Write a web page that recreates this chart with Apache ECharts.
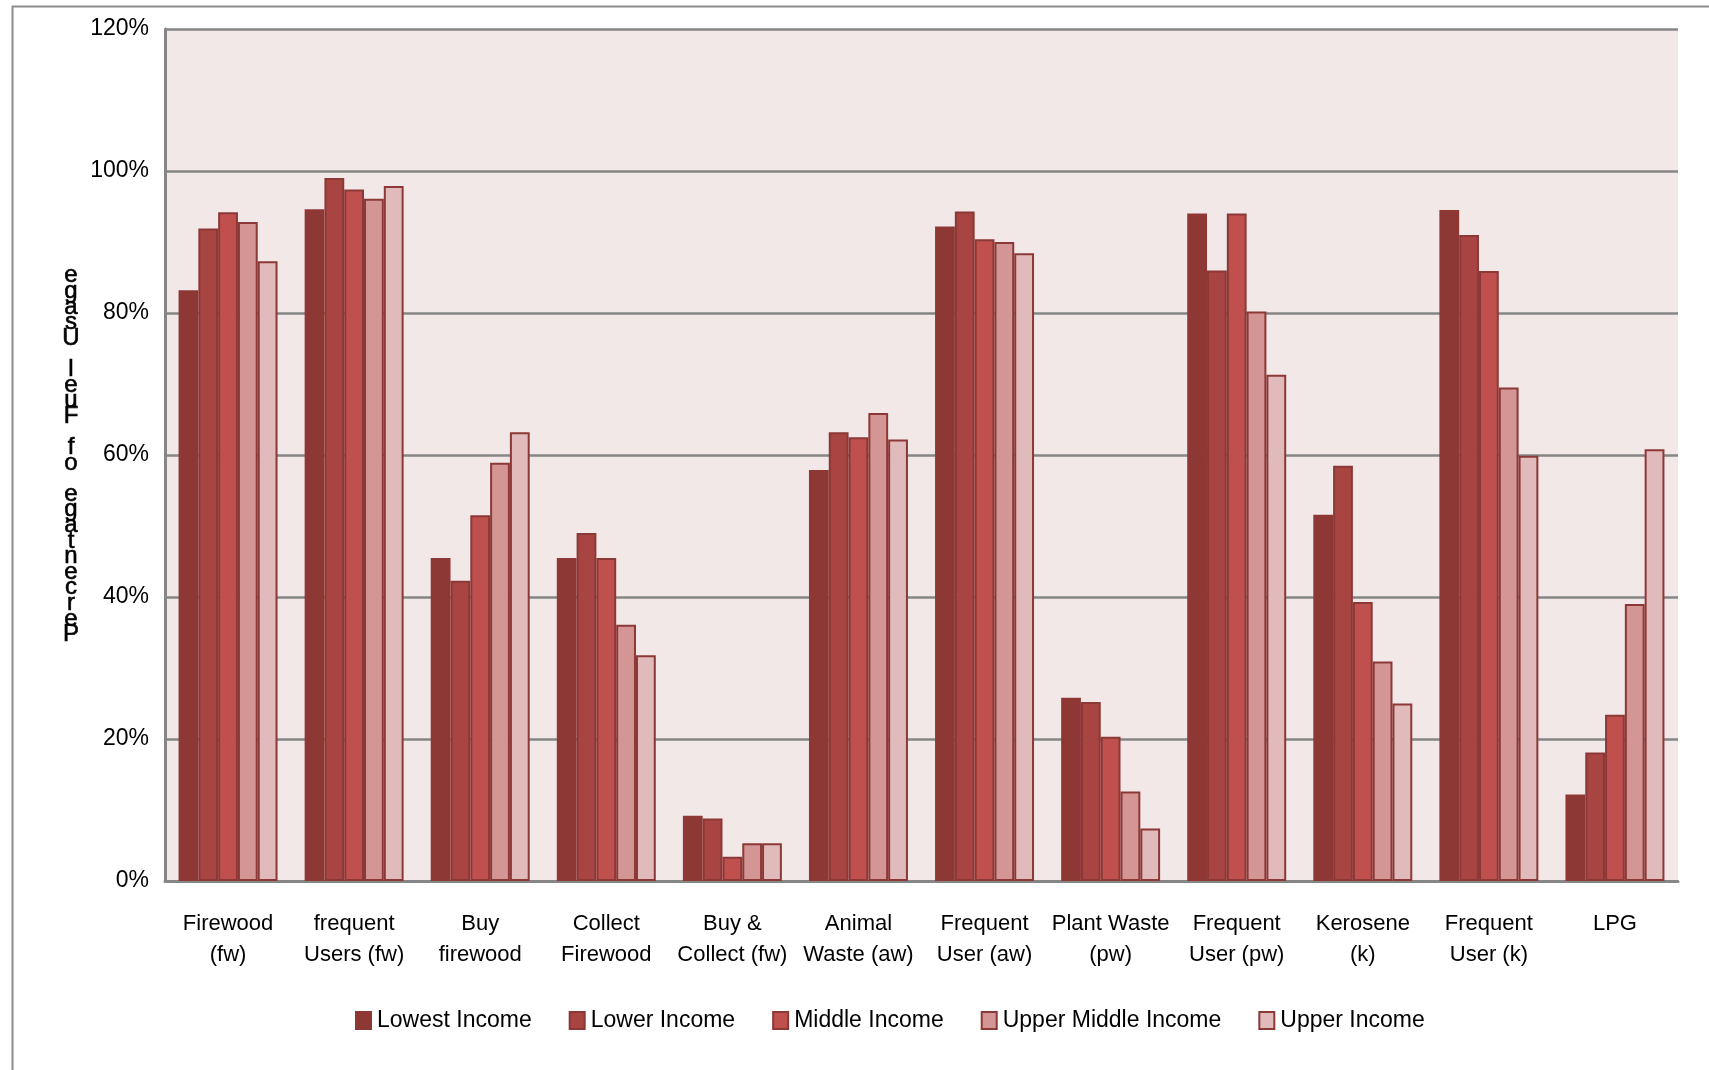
<!DOCTYPE html>
<html>
<head>
<meta charset="utf-8">
<script src="https://cdn.jsdelivr.net/npm/echarts@6/dist/echarts.min.js"></script>
<style>
  html, body { margin: 0; padding: 0; background: #fff; }
  #main { width: 1709px; height: 1070px; }
</style>
</head>
<body>
<div id="main"></div>
<script>
// categories and values (percent)
let categories = ['Firewood\n(fw)', 'frequent\nUsers (fw)', 'Buy\nfirewood', 'Collect\nFirewood', 'Buy &\nCollect (fw)',
    'Animal\nWaste (aw)', 'Frequent\nUser (aw)', 'Plant Waste\n(pw)', 'Frequent\nUser (pw)', 'Kerosene\n(k)',
    'Frequent\nUser (k)', 'LPG']
let seriesNames = ['Lowest Income', 'Lower Income', 'Middle Income', 'Upper Middle Income', 'Upper Income']
let lowest = [83.2, 94.6, 45.5, 45.5, 9.2, 57.9, 92.2, 25.8, 94.0, 51.6, 94.5, 12.2]
let lower = [91.9, 99.0, 42.3, 49.0, 8.8, 63.2, 94.3, 25.2, 86.0, 58.5, 91.0, 18.1]
let middle = [94.2, 97.4, 51.5, 45.5, 3.4, 62.5, 90.4, 20.3, 94.0, 39.3, 85.9, 23.4]
let upperMiddle = [92.8, 96.1, 58.9, 36.1, 5.3, 65.9, 90.0, 12.6, 80.2, 30.9, 69.5, 39.0]
let upper = [87.3, 97.9, 63.2, 31.8, 5.3, 62.2, 88.4, 7.4, 71.3, 25.0, 59.9, 60.8]
let yTicks = [0, 20, 40, 60, 80, 100, 120]
let yTitle = 'Percentage of Fuel Usage'

let colors = ['#8E3836', '#A84442', '#C0504D', '#D49694', '#E1BBBB']
let edge = '#8C3836'
let font = 'Liberation Sans, Arial, sans-serif'

let allData = [lowest, lower, middle, upperMiddle, upper]
let series = allData.map(function (d, i) {
    return {
        name: seriesNames[i],
        type: 'bar',
        data: d,
        barGap: '0%',
        barCategoryGap: '21.5%',
        itemStyle: {
            color: colors[i],
            borderColor: i === 0 ? colors[0] : edge,
            borderWidth: 2
        }
    }
})

// stacked, reversed letters of the y title (as in the original)
let stacked = yTitle.split('').reverse().join('\n')

let myChart = echarts.init(document.getElementById('main'))
myChart.setOption({
    animation: false,
    textStyle: { fontFamily: font },
    grid: { left: 165, right: 31, top: 29, bottom: 189, show: true, backgroundColor: '#F2E8E8', borderWidth: 0 },
    graphic: [
        {
            type: 'rect', left: 10, top: 4, silent: true, z: -10,
            shape: { width: 1740, height: 1100 },
            style: { fill: 'none', stroke: '#8C8C8C', lineWidth: 2 }
        },
        {
            type: 'text', x: 71, y: 268,
            style: {
                text: stacked, fill: '#000', font: '24px ' + font,
                align: 'center', verticalAlign: 'top', lineHeight: 15.6,
                stroke: '#000', lineWidth: 0.6
            }
        }
    ],
    legend: {
        data: seriesNames,
        left: 350, top: 1004,
        itemWidth: 15, itemHeight: 17, itemGap: 37,
        icon: 'rect',
        textStyle: { fontSize: 23, color: '#000', fontFamily: font, padding: [0, 0, 0, 1] }
    },
    xAxis: {
        type: 'category',
        data: categories,
        axisLine: { lineStyle: { color: '#868686', width: 3 } },
        axisTick: { show: false },
        axisLabel: { interval: 0, fontSize: 22, color: '#000', lineHeight: 31, margin: 27 }
    },
    yAxis: {
        type: 'value',
        min: yTicks[0], max: yTicks[yTicks.length - 1], interval: 20,
        axisLine: { show: true, lineStyle: { color: '#868686', width: 3 } },
        axisTick: { show: false },
        splitLine: { lineStyle: { color: '#868686', width: 2.5 } },
        axisLabel: { formatter: '{value}%', fontSize: 23, color: '#000', margin: 16 }
    },
    series: series
})
</script>
</body>
</html>
